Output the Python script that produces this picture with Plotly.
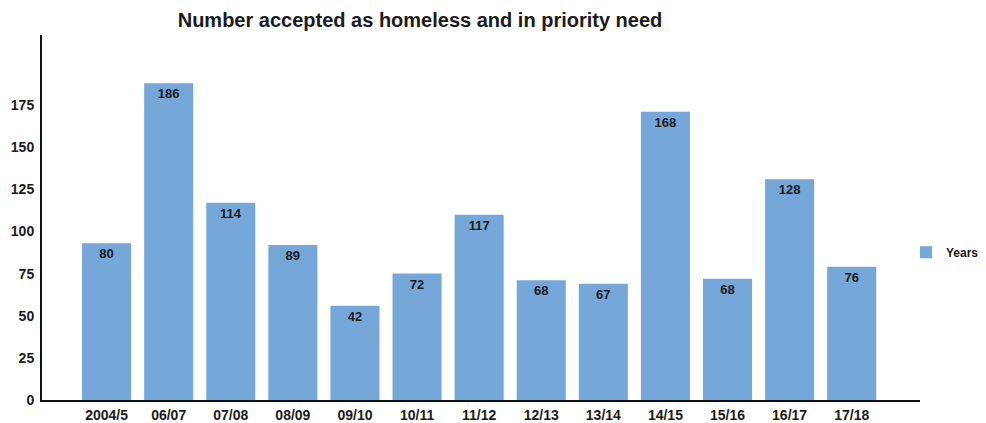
import plotly.graph_objects as go

years = ["2004/5", "06/07", "07/08", "08/09", "09/10", "10/11", "11/12",
         "12/13", "13/14", "14/15", "15/16", "16/17", "17/18"]
# bar heights as drawn against the axis
bar_heights = [93, 188, 117, 92, 56, 75, 110, 71, 69, 171, 72, 131, 79]
# numbers printed on the bars
bar_labels = ["80", "186", "114", "89", "42", "72", "117",
              "68", "67", "168", "68", "128", "76"]
y_ticks = [0, 25, 50, 75, 100, 125, 150, 175]

FONT = "Liberation Sans, Arial, sans-serif"
DARK = "#1a1a1a"

# page body has an 8px default margin; figure is offset by 8px
W, H = 970, 415

fig = go.Figure()
fig.add_trace(go.Bar(
    x=years, y=bar_heights, name="Years",
    text=bar_labels, textposition="inside", insidetextanchor="end",
    textangle=0, constraintext="none",
    textfont=dict(family=FONT, size=13, color=DARK, weight="bold"),
    marker=dict(color="#75A7D9", line=dict(width=0)),
    width=0.79, hoverinfo="x+y",
))

fig.update_layout(
    width=W, height=H,
    margin=dict(l=34, r=58, t=27, b=23, autoexpand=False),
    paper_bgcolor="white", plot_bgcolor="white",
    font=dict(family=FONT, color=DARK),
    title=dict(text="Number accepted as homeless and in priority need",
               x=412 / W, xref="container", xanchor="center",
               y=1 - 12 / H, yref="container", yanchor="middle",
               font=dict(family=FONT, size=20, color=DARK, weight="bold")),
    showlegend=True,
    legend=dict(x=0.984, xanchor="left", y=0.405, yanchor="middle",
                font=dict(family=FONT, size=12, color=DARK, weight="bold"),
                bgcolor="rgba(0,0,0,0)"),
    bargap=0.21,
)
fig.update_xaxes(
    type="category", range=[-1.04, 13.1], automargin=False,
    showline=True, linecolor="#111", linewidth=2,
    showgrid=False, zeroline=False, ticks="",
    tickfont=dict(family=FONT, size=14, color=DARK, weight="bold"),
    ticklabelstandoff=1,
)
fig.update_yaxes(
    range=[0, 216.6], tickvals=y_ticks, automargin=False,
    showline=True, linecolor="#111", linewidth=2,
    showgrid=False, zeroline=False, ticks="",
    tickfont=dict(family=FONT, size=14, color=DARK, weight="bold"),
    ticklabelstandoff=3,
)

fig.write_html("out.html")
